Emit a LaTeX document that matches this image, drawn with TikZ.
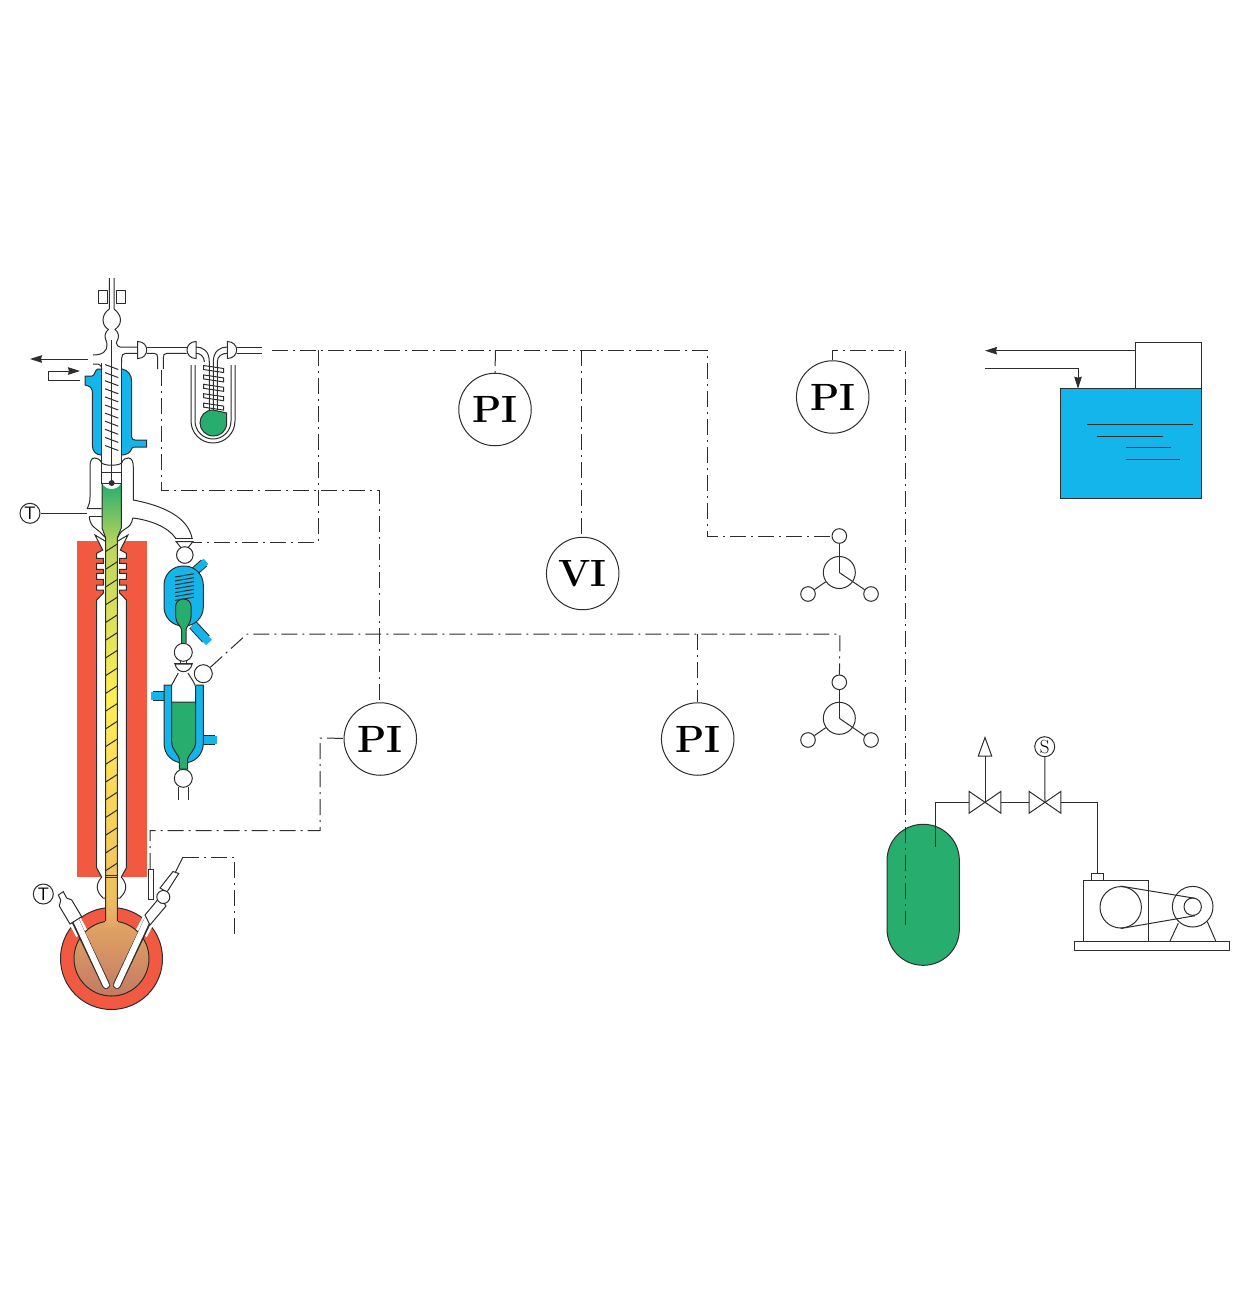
\documentclass[tikz,border=0pt]{standalone}
\usepackage{tikz}
\usetikzlibrary{arrows.meta,positioning}
\definecolor{heatred}{RGB}{241,90,64}
\definecolor{waterblue}{RGB}{19,181,234}
\definecolor{liquidgreen}{RGB}{39,174,110}
\definecolor{inkgrey}{RGB}{45,45,45}
\definecolor{limeshade}{RGB}{190,214,90}
\definecolor{yellowshade}{RGB}{255,238,85}
\definecolor{amberx}{RGB}{240,190,95}
\definecolor{tanshade}{RGB}{226,165,100}
\definecolor{clayshade}{RGB}{196,122,100}
\tikzset{
    pipe/.style={draw=inkgrey,line width=1pt},
    ctrl/.style={draw=inkgrey,line width=1pt,dash pattern=on 16pt off 5pt on 2pt off 5pt},
    gauge/.style={circle,draw=inkgrey,line width=1pt,fill=white,minimum size=72.5pt,inner sep=0pt,font=\bfseries\fontsize{38}{38}\selectfont},
    tag/.style={circle,draw=inkgrey,line width=1pt,fill=white,minimum size=20pt,inner sep=0pt,font=\fontsize{18}{18}\selectfont},
    ball/.style={circle,draw=inkgrey,line width=1pt,fill=white,minimum size=18pt,inner sep=0pt},
    port/.style={circle,draw=inkgrey,line width=1pt,fill=white,minimum size=14.6pt,inner sep=0pt},
    hub/.style={circle,draw=inkgrey,line width=1pt,fill=white,minimum size=32pt,inner sep=0pt},
    gate/.style={inner sep=0pt,minimum width=31.4pt,minimum height=21.4pt},
    flow/.style={draw=inkgrey,line width=1pt,-{Stealth[length=12pt,width=7.5pt,inset=1pt]}},
}
\begin{document}
\begin{tikzpicture}[x=1pt,y=-1pt]
    \useasboundingbox (0,0) rectangle (1242,1290);
    \fill[heatred] (77,541) rectangle (146.5,877);
    \foreach \sc/\sh in {1/0,-1/223} {
        \begin{scope}[shift={(\sh,0)},xscale=\sc]
            \filldraw[pipe,fill=white] (111.5,541) -- (105,541) -- (95,535) -- (102.7,550) -- (96.7,553.3) -- (96.7,558.3) -- (103.3,558.3) -- (103.3,563.3) -- (96.7,563.3) -- (96.7,569.3) -- (103.3,569.3) -- (103.3,573.3) -- (96.7,573.3) -- (96.7,579.3) -- (103.3,579.3) -- (103.3,585) -- (96.7,585) -- (96.7,590) -- (103.3,590) -- (103.3,593) -- (96.7,600) -- (96.7,868) -- (101.7,877) .. controls (96,884) and (95,890) .. (103,898) -- (111.5,899) -- cycle;
        \end{scope}
    }
    \fill[heatred] (111.5,958.5) circle (51);
    \draw[pipe] (111.5,958.5) circle (51);
    \foreach \sc/\sh in {1/0,-1/223} {
        \begin{scope}[shift={(\sh,0)},xscale=\sc]
            \draw[white,line width=13pt] (72,915) -- (82,934);
        \end{scope}
    }
    \path[pipe,top color=tanshade,bottom color=clayshade] (111.5,958.5) circle (37.5);
    \path[top color=liquidgreen,bottom color=limeshade] (102,483) .. controls (105,491) and (118,491) .. (121.3,483) -- (121.3,528) -- (117.3,538) -- (117.3,546) -- (105.7,546) -- (105.7,538) -- (102,528) -- cycle;
    \path[top color=limeshade,bottom color=yellowshade] (105.7,545) rectangle (117.3,701);
    \path[top color=yellowshade,bottom color=amberx] (105.7,700) rectangle (117.3,899);
    \path[top color=amberx,bottom color=tanshade] (105.7,898) rectangle (117.3,926);
    \draw[pipe] (102,483) -- (102,528) -- (105.7,538) -- (105.7,921);
    \draw[pipe] (121.3,483) -- (121.3,528) -- (117.3,538) -- (117.3,921);
    \foreach \k in {0,...,18} {
        \draw[pipe] (105.7,551.5+17.73*\k) -- (117.3,544+17.73*\k);
    }
    \draw[pipe] (105.7,875) -- (117.3,875) (105.7,877.5) -- (117.3,877.5);
    \foreach \sc/\sh in {1/0,-1/223} {
        \begin{scope}[shift={(\sh,0)},xscale=\sc]
            \draw[draw=inkgrey,line width=8pt,line cap=round] (75,920) -- (106,985);
            \draw[white,line width=6pt,line cap=round] (75,918) -- (106,985);
        \end{scope}
    }
    \filldraw[pipe,fill=white] (58.3,895) -- (63.3,891.7) -- (66.7,898) -- (71.7,900) -- (81.7,916.7) -- (70,924) -- (59.3,906) -- (60.7,900) -- cycle;
    \filldraw[pipe,fill=white] (145,915) -- (160,897) -- (166,906) -- (150,925) -- cycle;
    \filldraw[pipe,fill=white] (160,888) -- (173,871.5) -- (178.7,873.5) -- (167,892) -- cycle;
    \filldraw[pipe,fill=white] (148.3,869) rectangle (153.3,899);
    \node[ball,minimum size=13pt] (flaskball) at (163.3,897) {};
    \coordinate (probeend) at (183,857);
    \draw[pipe] (175.5,872) -- (probeend);
    \coordinate (probefoot) at (234,935);
    \draw[ctrl] (probeend) -- (234,857) -- (probefoot);
    \filldraw[pipe,fill=waterblue] (85,376) -- (92,376) .. controls (95,376) and (95,369) .. (98,369) -- (122,369) .. controls (128,370) and (131.7,375) .. (131.7,382) -- (131.7,437) .. controls (131.7,439) and (133,440) .. (135,440) -- (146.5,440) -- (146.5,447) -- (135,447) .. controls (132,447) and (131.7,448) .. (131.7,449) .. controls (130,453) and (126,455) .. (122,455) -- (101,455) .. controls (96,455) and (92.3,451) .. (92.3,445) -- (92.3,392) .. controls (92.3,388) and (90,386) .. (85,385) -- cycle;
    \filldraw[pipe,fill=white] (101.7,363) -- (101.7,483) -- (121.7,483) -- (121.7,363);
    \fill[white] (102.2,352) rectangle (121.2,372);
    \foreach \k in {0,...,10} {
        \draw[pipe] (105,364.5+8.1*\k) -- (118.3,369.5+8.1*\k);
    }
    \draw[pipe] (109.3,278) -- (109.3,309) .. controls (105,312) and (103,316) .. (103,320) .. controls (103,325) and (106,328) .. (108.5,329.5) .. controls (105,332) and (104.5,336) .. (105.5,339) .. controls (106.5,341) and (107,343) .. (107,345) .. controls (107,351) and (103,355) .. (93,355);
    \draw[pipe] (114,278) -- (114,309) .. controls (118,312) and (120.5,316) .. (120.5,320) .. controls (120.5,325) and (117,328) .. (115,329.5) .. controls (118.5,332) and (119,336) .. (118,339) .. controls (117,341) and (116.5,342) .. (116.5,343) .. controls (116.5,345) and (118,347) .. (120,347) -- (137.7,347);
    \draw[pipe] (93,364) -- (98,364) .. controls (100,364) and (101.7,366) .. (101.7,370);
    \draw[pipe] (121.7,363) -- (121.7,358) .. controls (121.7,355) and (123,353.3) .. (126,353.3) -- (137.7,353.3);
    \draw[pipe] (146.7,347) -- (186.7,347);
    \draw[pipe] (146.7,353.3) -- (154,353.3) .. controls (157,353.3) and (157.7,355) .. (157.7,358) -- (157.7,369);
    \draw[pipe] (163.3,369) -- (163.3,358) .. controls (163.3,355) and (164,353.3) .. (167,353.3) -- (186.7,353.3);
    \draw[pipe] (111.7,340) -- (111.7,483);
    \fill[inkgrey] (111.7,483) circle (3);
    \draw[pipe] (101.7,472) -- (121.7,472);
    \draw[pipe] (98.3,290.5) rectangle (107.5,303.5) (116,290.5) rectangle (125,303.5);
    \filldraw[pipe,fill=white] (137.7,341.5) .. controls (144,341.5) and (146.7,346) .. (146.7,350) .. controls (146.7,354) and (144,358.5) .. (137.7,358.5) -- cycle;
    \filldraw[pipe,fill=white] (196,341.5) .. controls (190,341.5) and (187,346) .. (187,350) .. controls (187,354) and (190,358.5) .. (196,358.5) -- cycle;
    \filldraw[pipe,fill=white] (227.3,341.5) .. controls (233.5,341.5) and (236.7,346) .. (236.7,350) .. controls (236.7,354) and (233.5,358.5) .. (227.3,358.5) -- cycle;
    \draw[pipe] (196,347) .. controls (203,347) and (209.3,351) .. (209.3,362) -- (209.3,410);
    \draw[pipe] (196,353.3) .. controls (200,353.3) and (204,356) .. (204.5,362);
    \draw[pipe] (227.3,347) .. controls (220,347) and (213.3,351) .. (213.3,362) -- (213.3,410);
    \draw[pipe] (227.3,353.3) .. controls (222,353.3) and (217.3,356) .. (217.3,362) -- (217.3,410);
    \draw[pipe] (236.7,347) -- (262,347) (236.7,353.3) -- (262,353.3);
    \draw[pipe] (191,365) -- (191,421) arc (180:0:22) -- (235,365);
    \draw[pipe] (195,365) -- (195,421) arc (180:0:18) -- (231,365);
    \filldraw[pipe,fill=liquidgreen] (226.7,413) -- (226.7,423) .. controls (226.7,431) and (220.5,436) .. (213.3,436) .. controls (206,436) and (200,430) .. (200,423) .. controls (200,416) and (205,410) .. (213,410) -- cycle;
    \foreach \k in {0,...,4} {
        \filldraw[pipe,fill=white] (203.5,365.5+9.4*\k) -- (223.5,368.5+9.4*\k) -- (223.5,372.5+9.4*\k) -- (203.5,369.5+9.4*\k) -- cycle;
    }
    \draw[pipe] (209.3,365) -- (209.3,410) (213.3,365) -- (213.3,410) (217.3,365) -- (217.3,410);
    \draw[pipe] (101.7,463) .. controls (100,459) and (97,458) .. (94.5,458) .. controls (91,458) and (90,462) .. (90,467) -- (90,497) .. controls (90,502) and (89,505) .. (87.3,508.5) -- (101.7,508.5);
    \draw[pipe] (89.3,516.7) -- (101.7,516.7);
    \draw[pipe] (89.3,516.7) .. controls (89.5,522) and (92,526) .. (95,528) -- (100,532) -- (105.7,538);
    \draw[pipe] (121.7,463) .. controls (123,459) and (126,458) .. (128.5,458) .. controls (132,458) and (133.3,462) .. (133.3,467) -- (133.3,500) .. controls (165,506) and (188,518) .. (192,538);
    \draw[pipe] (132.7,518) .. controls (150,520) and (168,527) .. (175.5,538);
    \draw[pipe] (132.7,518) .. controls (132,524) and (129,527) .. (125,529) -- (121,532) -- (117.3,538);
    \draw[pipe] (101.7,463) .. controls (105,466) and (118,466) .. (121.7,463);
    \draw[inkgrey,line width=1.5pt] (175,538.5) -- (193,538.5);
    \filldraw[pipe,fill=white] (176,541.5) -- (193,541.5) -- (187,549) -- (182,549) -- cycle;
    \node[ball,minimum size=16.6pt] (dropball) at (184.8,555) {};
    \draw[line width=9pt,draw=inkgrey] (195,571) -- (204,563);
    \draw[line width=7pt,waterblue] (195,571) -- (206,561.3);
    \draw[line width=10pt,draw=inkgrey] (193,625) -- (206,639);
    \draw[line width=8pt,waterblue] (193,625) -- (209,642.5);
    \filldraw[pipe,fill=waterblue,rounded corners=19pt] (164,566) rectangle (203.3,626);
    \foreach \k in {0,...,6} {
        \draw[pipe] (175,577+3.9*\k) -- (194,573.8+3.9*\k);
    }
    \filldraw[pipe,fill=liquidgreen] (181.7,643) -- (181.7,630) .. controls (181.7,627) and (175.7,623) .. (175.7,617) -- (175.7,606) .. controls (175.7,602) and (179,599) .. (183.3,599) .. controls (188,599) and (191,602) .. (191,606) -- (191,617) .. controls (191,623) and (186,627) .. (186,630) -- (186,643);
    \node[ball] (upperball) at (183.3,652.3) {};
    \draw[pipe] (180.5,661) -- (180.5,665) (186,661) -- (186,665);
    \draw[pipe,line width=1.4pt] (174.3,663.3) -- (192.7,663.3);
    \filldraw[pipe,fill=white] (175,664) .. controls (176,669) and (180,671.7) .. (183.3,671.7) .. controls (187,671.7) and (191,669) .. (192.2,664) -- cycle;
    \draw[line width=10pt,draw=inkgrey] (152.5,696) -- (166,696);
    \draw[line width=8pt,waterblue] (151,696) -- (166,696);
    \draw[line width=10pt,draw=inkgrey] (203,739.5) -- (215,739.5);
    \draw[line width=8pt,waterblue] (203,739.5) -- (216.5,739.5);
    \filldraw[pipe,fill=waterblue] (164,685) -- (203.3,685) -- (203.3,743.3) .. controls (203.3,755) and (194,763) .. (183.7,763) .. controls (173,763) and (164,755) .. (164,743.3) -- cycle;
    \fill[white] (171.7,684) rectangle (195.7,702);
    \filldraw[pipe,fill=liquidgreen] (179.3,769) -- (179.3,759) .. controls (179,755) and (171.7,750) .. (171.7,742) -- (171.7,702) -- (195.7,702) -- (195.7,742) .. controls (195.7,750) and (188,755) .. (187.7,759) -- (187.7,769) -- cycle;
    \draw[pipe] (171.7,702) -- (171.7,685) -- (178.3,673);
    \draw[pipe] (195.7,702) -- (195.7,688) .. controls (195.7,684) and (192,680) .. (188,673);
    \node[ball] (lowerball) at (183.3,778.3) {};
    \draw[pipe] (178.7,787) -- (178.7,800) (188.7,787) -- (188.7,800);
    \node[ball] (sideball) at (203.3,673.7) {};
    \node[tag,font=\sffamily\fontsize{18}{18}\selectfont] (ttop) at (30,513.3) {T};
    \node[tag,font=\sffamily\fontsize{18}{18}\selectfont] (tflask) at (43.3,894) {T};
    \coordinate (ttopend) at (87,513.3);
    \draw[pipe] (ttop) -- (ttopend);
    \coordinate (outa) at (88,359);
    \coordinate (outb) at (30,359);
    \draw[flow] (outa) -- (outb);
    \coordinate (ina) at (80,380);
    \coordinate (inb) at (80,371);
    \draw[flow] (ina) -- (48,380) -- (48,371) -- (inb);
    \node[gauge] (pia) at (495,409.5) {PI};
    \node[gauge] (vi) at (582.7,573.5) {VI};
    \node[gauge] (pib) at (832.7,397) {PI};
    \node[gauge] (pic) at (380.3,739) {PI};
    \node[gauge] (pid) at (697.7,739) {PI};
    \node[port] (upa) at (839.3,536) {};
    \node[hub] (hua) at (839.3,572.5) {};
    \node[port] (lla) at (808,594) {};
    \node[port] (lra) at (871,594) {};
    \node[port] (upb) at (839.3,682.3) {};
    \node[hub] (hub) at (839.3,718.3) {};
    \node[port] (llb) at (808,740) {};
    \node[port] (lrb) at (871,740) {};
    \foreach \u/\h/\l/\r in {upa/hua/lla/lra,upb/hub/llb/lrb} {
        \draw[pipe] (\u) -- (\h.center);
        \draw[pipe] (\h.center) -- (\r);
        \draw[pipe] (\l) -- (\h);
    }
    \coordinate (busa) at (272,350);
    \coordinate (busb) at (318,350);
    \coordinate (busc) at (495.3,350);
    \coordinate (busd) at (581,350);
    \draw[ctrl] (busa) -- (707,350) -- (707,536) -- (upa);
    \draw[ctrl] (busb) -- (318,542) -- (193,542);
    \draw[ctrl] (busc) -- (pia);
    \draw[ctrl] (busd) -- (581,537);
    \draw[ctrl] (161,370) -- (161,490) -- (379.5,490) -- (379.5,703);
    \coordinate (busf) at (697.7,634);
    \draw[ctrl] (sideball) -- (247,634) -- (840,634) -- (upb);
    \draw[ctrl] (busf) -- (pid);
    \draw[ctrl] (150,869) -- (150,830.5) -- (320,830.5) -- (320,738) -- (pic);
    \node[draw=inkgrey,line width=1pt,fill=liquidgreen,rounded corners=36pt,minimum width=72.3pt,minimum height=141pt,inner sep=0pt] (vessel) at (923.2,894.8) {};
    \draw[ctrl] (pib.north) -- (832.7,350) -- (905,350) -- (905,925);
    \node[gate] (vea) at (985,802.3) {};
    \node[gate] (veb) at (1045,802.3) {};
    \foreach \v in {vea,veb} {
        \draw[pipe] (\v.north west) -- (\v.south east) -- (\v.north east) -- (\v.south west) -- cycle;
    }
    \coordinate (dip) at (935,847);
    \draw[pipe] (dip) |- (vea.west);
    \draw[pipe] (vea.east) -- (veb.west);
    \node[pipe,inner sep=0pt,minimum width=12pt,minimum height=6.7pt] (nozzle) at (1097.3,876.7) {};
    \draw[pipe] (veb.east) -| (nozzle.north);
    \coordinate (ventfoot) at (985,756);
    \draw[pipe] (vea.center) -- (ventfoot);
    \draw[pipe] (978.3,756) -- (991.7,756) -- (985,737.5) -- cycle;
    \node[tag,font=\fontsize{19}{19}\selectfont] (solenoid) at (1044.7,746.7) {S};
    \draw[pipe] (veb.center) -- (solenoid);
    \draw[pipe] (1083.3,941) -- (1083.3,880) -- (1148.3,880) -- (1148.3,941);
    \draw[pipe] (1074.3,941.3) rectangle (1229.7,950);
    \node[circle,draw=inkgrey,line width=1pt,minimum size=41.4pt,inner sep=0pt] (pulley) at (1120.7,907.3) {};
    \node[circle,draw=inkgrey,line width=1pt,minimum size=40.6pt,inner sep=0pt] (motor) at (1192.7,906.7) {};
    \node[circle,draw=inkgrey,line width=1pt,minimum size=17.4pt,inner sep=0pt] (shaft) at (1192.7,906.7) {};
    \draw[pipe] (pulley.north) -- (1195,898.3) (pulley.south) -- (1195,915.7);
    \draw[pipe] (1178.3,923.3) -- (1170,941) (1207.3,921.7) -- (1215.7,941);
    \filldraw[pipe,fill=waterblue] (1060,388.7) rectangle (1201,498.7);
    \draw[pipe] (1135.7,388.7) rectangle (1201,342.7);
    \draw[pipe] (1086.7,424.3) -- (1192.7,424.3) (1097.3,436) -- (1162.7,436) (1126,447.3) -- (1171,447.3) (1126,459) -- (1180,459);
    \coordinate (retstart) at (1135.7,350.7);
    \coordinate (retend) at (985,350.7);
    \coordinate (feedstart) at (985,368);
    \coordinate (feedend) at (1078,388.7);
    \draw[flow] (retstart) -- (retend);
    \draw[flow] (feedstart) -| (feedend);
\end{tikzpicture}
\end{document}
